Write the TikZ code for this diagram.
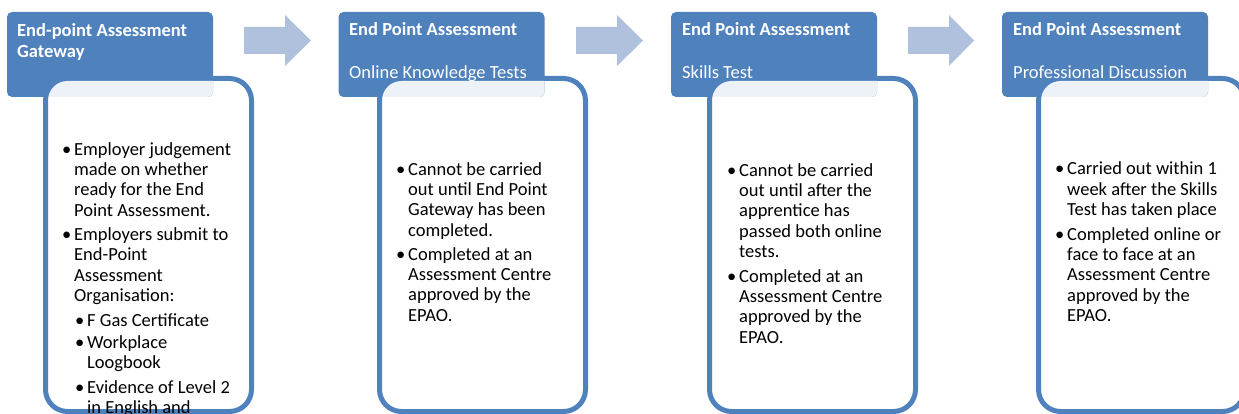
\documentclass[tikz,border=0pt]{standalone}
\usepackage{fontspec}
\setmainfont{Carlito}
\usetikzlibrary{calc}
\definecolor{hblue}{HTML}{4F81BD}
\definecolor{ablue}{HTML}{B0C1DE}
\newcommand{\bul}{\llap{\makebox[12pt][l]{•}}}
\begin{document}
\begin{tikzpicture}[x=1pt,y=-1pt,
  hdr/.style={fill=hblue, draw=none, rounded corners=5pt, inner sep=0pt, outer sep=0pt,
    minimum width=206pt, minimum height=85pt, anchor=north west},
  inbox/.style={draw=hblue, line width=5pt, fill=white, rounded corners=22pt, inner sep=0pt,
    outer sep=0pt, minimum width=206pt, minimum height=333pt, anchor=north west},
  htitle/.style={text=white, font=\fontsize{18.5}{20.4}\selectfont\bfseries, inner sep=0pt, anchor=base west},
  hsub/.style={text=white, font=\fontsize{18.5}{20.4}\selectfont, inner sep=0pt, anchor=base west},
  body/.style={text=black, font=\fontsize{18.5}{20.4}\selectfont, inner sep=0pt, anchor=base west, align=left},
  flow/.style={fill=ablue, draw=none},
  veil/.style={fill=white, opacity=0.9, rounded corners=19.5pt}]
\path[use as bounding box] (0,0) rectangle (1239,414);

% inner boxes
\node[inbox] (b1) at (45.5,78.5) {};
\node[inbox] (b2) at (379.5,78.5) {};
\node[inbox] (b3) at (709.5,78.5) {};
\node[inbox] (b4) at (1038.5,78.5) {};

% headers
\node[hdr] (h1) at (7,12) {};
\node[hdr] (h2) at (338.5,12) {};
\node[hdr] (h3) at (671,12) {};
\node[hdr] (h4) at (1002,12) {};

\node[htitle] (h1t) at (17,37) {End-point Assessment};
\node[htitle] (h1s) at (17,58) {Gateway};
\node[htitle] (h2t) at (349,36) {End Point Assessment};
\node[hsub] (h2s) at (349,79) {Online Knowledge Tests};
\node[htitle] (h3t) at (682,36) {End Point Assessment};
\node[hsub] (h3s) at (682,79) {Skills Test};
\node[htitle] (h4t) at (1013,36) {End Point Assessment};
\node[hsub] (h4s) at (1013,79) {Professional Discussion};

% translucent veil where box overlaps header
\foreach \i in {1,2,3,4}{
  \begin{scope}
    \clip[rounded corners=5pt] (h\i.north west) rectangle (h\i.south east);
    \fill[veil] ($(b\i.north west)+(2.5,2.5)$) rectangle ($(b\i.south east)+(-2.5,-2.5)$);
  \end{scope}
}

% block arrows
\fill[flow] (244,27) -- (285,27) -- (285,15) -- (311,40.5) -- (285,66) -- (285,54) -- (244,54) -- cycle;
\fill[flow] (576,27) -- (617,27) -- (617,15) -- (643,40.5) -- (617,66) -- (617,54) -- (576,54) -- cycle;
\fill[flow] (908,27) -- (949,27) -- (949,15) -- (974,40.5) -- (949,66) -- (949,54) -- (908,54) -- cycle;

% body texts (anchor = baseline of the last line)
\node[body] (t1a) at (74,216.2) {\bul Employer judgement\\made on whether\\ready for the End\\Point Assessment.};
\node[body] (t1b) at (74,301.5) {\bul Employers submit to\\End-Point\\Assessment\\Organisation:};
\node[body] (t1c) at (87,326) {\bul F Gas Certificate};
\node[body] (t1d) at (87,368.7) {\bul Workplace\\Loogbook};
\node[body] (t1e) at (87,413.4) {\bul Evidence of Level 2\\in English and};

\node[body] (t2a) at (408,236.2) {\bul Cannot be carried\\out until End Point\\Gateway has been\\completed.};
\node[body] (t2b) at (408,321.2) {\bul Completed at an\\Assessment Centre\\approved by the\\EPAO.};

\node[body] (t3a) at (739,257.6) {\bul Cannot be carried\\out until after the\\apprentice has\\passed both online\\tests.};
\node[body] (t3b) at (739,343.2) {\bul Completed at an\\Assessment Centre\\approved by the\\EPAO.};

\node[body] (t4a) at (1067,215.8) {\bul Carried out within 1\\week after the Skills\\Test has taken place};
\node[body] (t4b) at (1067,321.6) {\bul Completed online or\\face to face at an\\Assessment Centre\\approved by the\\EPAO.};
\end{tikzpicture}
\end{document}
